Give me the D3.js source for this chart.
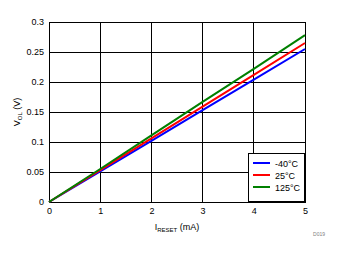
<!DOCTYPE html>
<html><head><meta charset="utf-8">
<script src="https://cdn.jsdelivr.net/npm/d3@7"></script>
<style>body{margin:0;background:#fff}svg text{font-family:"Liberation Sans",Arial,sans-serif;}</style>
</head><body>
<svg id="c" width="338" height="254"></svg>
<script>
const xVals = [0, 1, 2, 3, 4, 5];
const seriesNames = ["-40\u00B0C", "25\u00B0C", "125\u00B0C"];
const seriesColors = ["#0000ff", "#ff0000", "#008000"];
const blue = [0, 0.051, 0.102, 0.153, 0.204, 0.255];
const red = [0, 0.053, 0.106, 0.159, 0.212, 0.265];
const green = [0, 0.055, 0.111, 0.167, 0.222, 0.278];
const xTicks = [0, 1, 2, 3, 4, 5];
const yTicks = [0, 0.05, 0.1, 0.15, 0.2, 0.25, 0.3];

const svg = d3.select("#c");
const L = 49, R = 305, T = 22, B = 202;
const x = d3.scaleLinear().domain([0, 5]).range([L, R]);
const y = d3.scaleLinear().domain([0, 0.3]).range([B, T]);

const g = svg.append("g");
g.selectAll(".vg").data(xTicks).enter().append("line")
  .attr("x1", d => x(d)).attr("x2", d => x(d)).attr("y1", T).attr("y2", B)
  .attr("stroke", "#000").attr("stroke-width", 1).attr("shape-rendering", "crispEdges");
g.selectAll(".hg").data(yTicks).enter().append("line")
  .attr("y1", d => y(d)).attr("y2", d => y(d)).attr("x1", L).attr("x2", R)
  .attr("stroke", "#000").attr("stroke-width", 1).attr("shape-rendering", "crispEdges");
g.append("rect").attr("x", L).attr("y", T).attr("width", R - L).attr("height", B - T)
  .attr("fill", "none").attr("stroke", "#000").attr("stroke-width", 1).attr("shape-rendering", "crispEdges");

const xAxis = d3.axisBottom(x).tickValues(xTicks).tickSize(0).tickPadding(6).tickFormat(d3.format("d"));
const xa = svg.append("g").attr("transform", `translate(0,${B})`).call(xAxis);
xa.select(".domain").remove();
xa.selectAll("text").attr("font-size", 9).attr("fill", "#000").style("font-family", "Liberation Sans, Arial, sans-serif");

const yAxis = d3.axisLeft(y).tickValues(yTicks).tickSize(0).tickPadding(5).tickFormat(d => d3.format("")(+d.toFixed(2)));
const ya = svg.append("g").attr("transform", `translate(${L},0)`).call(yAxis);
ya.select(".domain").remove();
ya.selectAll("text").attr("font-size", 9).attr("fill", "#000").style("font-family", "Liberation Sans, Arial, sans-serif");

const data = [blue, red, green];
const line = d3.line().x((d, i) => x(xVals[i])).y(d => y(d));
data.forEach((s, i) => {
  svg.append("path").datum(s).attr("d", line).attr("fill", "none")
    .attr("stroke", seriesColors[i]).attr("stroke-width", 2);
});

// Legend
const lg = svg.append("g");
lg.append("rect").attr("x", 248.5).attr("y", 153.5).attr("width", 56).attr("height", 48)
  .attr("fill", "#fff").attr("stroke", "#000").attr("stroke-width", 1);
seriesNames.forEach((n, i) => {
  const yy = 163 + i * 12;
  lg.append("line").attr("x1", 253).attr("x2", 270).attr("y1", yy).attr("y2", yy)
    .attr("stroke", seriesColors[i]).attr("stroke-width", 2);
  lg.append("text").attr("x", 275).attr("y", yy + 3.5).attr("font-size", 9).text(n);
});

// Axis titles
const xt = svg.append("text").attr("x", 177).attr("y", 230).attr("text-anchor", "middle").attr("font-size", 9);
xt.append("tspan").text("I");
xt.append("tspan").attr("font-size", 6).attr("dy", 1.5).text("RESET");
xt.append("tspan").attr("dy", -1.5).text(" (mA)");

const yt = svg.append("text").attr("transform", "translate(20,112) rotate(-90)").attr("text-anchor", "middle").attr("font-size", 9);
yt.append("tspan").text("V");
yt.append("tspan").attr("font-size", 6).attr("dy", 1.5).text("OL");
yt.append("tspan").attr("dy", -1.5).text(" (V)");

svg.append("text").attr("x", 325).attr("y", 236).attr("text-anchor", "end").attr("font-size", 5).attr("fill", "#808080").text("D019");
</script>
</body></html>
